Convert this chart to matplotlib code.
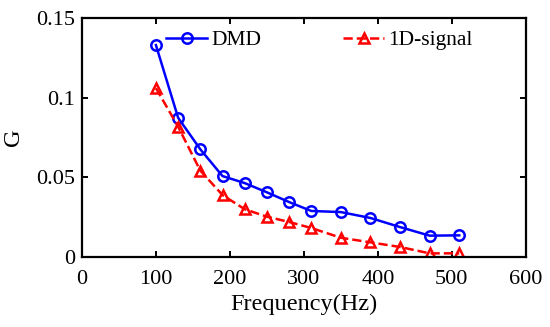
import matplotlib.pyplot as plt

plt.rcParams['font.family'] = ['Liberation Serif', 'DejaVu Serif']

freq = [100, 130, 160, 190, 220, 250, 280, 310, 350, 390, 430, 470, 510]
g_dmd = [0.133, 0.0874, 0.0676, 0.0508, 0.0464, 0.0406, 0.0345, 0.0289,
         0.0282, 0.0245, 0.0188, 0.0134, 0.0136]
g_1d = [0.106, 0.0818, 0.0542, 0.0389, 0.0300, 0.0253, 0.0220, 0.0182,
        0.0121, 0.0092, 0.0063, 0.0023, 0.0023]

xticks = [0, 100, 200, 300, 400, 500, 600]
yticks = [0, 0.05, 0.1, 0.15]
ytick_labels = ['0', '0.05', '0.1', '0.15']

fig = plt.figure(figsize=(5.5, 3.27), dpi=100)
ax = fig.add_axes([0.149, 0.214, 0.807, 0.731])

ax.plot(freq, g_dmd, color='#0000ff', lw=1.8, marker='o', ms=7.5,
        mfc='none', mew=1.8, label='DMD')
ax.plot(freq, g_1d, color='#ff0000', lw=1.8, ls='--', marker='^', ms=7.5,
        mfc='none', mew=1.8, label='1D-signal')

ax.set_xlim(0, 600)
ax.set_ylim(0, 0.15)
ax.set_xticks(xticks)
ax.set_yticks(yticks)
ax.set_yticklabels(ytick_labels)
ax.tick_params(direction='in', top=True, right=True, labelsize=16, width=1.4, length=4)
ax.tick_params(axis='x', pad=9)
ax.tick_params(axis='y', pad=5)
for s in ax.spines.values():
    s.set_linewidth(1.6)

ax.set_xlabel('Frequency(Hz)', fontsize=17.5, labelpad=4)
ax.set_ylabel('G', fontsize=17.5, labelpad=9)

ax.legend(loc='upper left', bbox_to_anchor=(0.146, 1.03), ncol=2, frameon=False,
          fontsize=15.5, handlelength=1.9, columnspacing=3.8, handletextpad=0.2)

fig.savefig('out.png', dpi=100)
